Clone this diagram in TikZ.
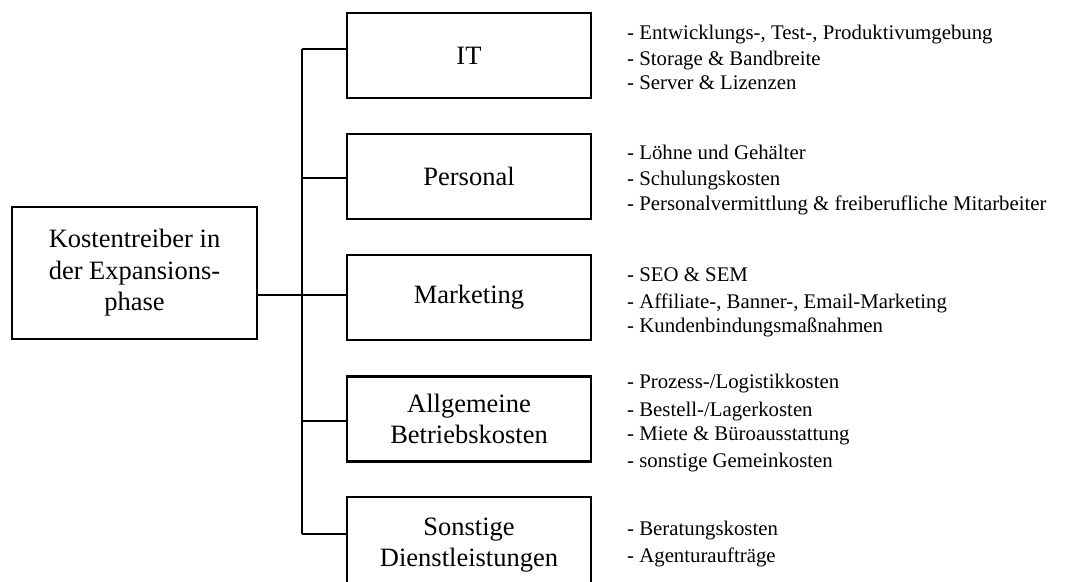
\documentclass[tikz,border=0pt]{standalone}
\usepackage{fontspec}
\setmainfont{Liberation Serif}
\begin{document}
\begin{tikzpicture}[x=1pt,y=-1pt,
  box/.style={draw, line width=2.6pt, minimum width=244pt, minimum height=85pt, align=center,
    font=\fontsize{26.5}{31.5}\selectfont, inner sep=0pt},
  item/.style={anchor=base west, inner sep=0pt, font=\fontsize{20.8}{25}\selectfont},
  conn/.style={line width=2.3pt},
  bus/.style={line width=2pt}]
\useasboundingbox (0,0) rectangle (1065,581);

% root
\node[box, minimum width=245pt, minimum height=132pt] (root) at (134.5,273)
  {Kostentreiber in\\der Expansions-\\phase};

% category boxes
\node[box] (it) at (469,55.5) {IT};
\node[box] (pe) at (469,176.5) {Personal};
\node[box] (mk) at (469,297.5) {Marketing};
\node[box] (ab) at (469,419) {Allgemeine\\Betriebskosten};
\node[box, minimum height=96pt] (sd) at (469,545) {Sonstige\\Dienstleistungen};

% bus
\coordinate (bt) at (302,49);
\coordinate (bb) at (302,534);
\draw[bus] (bt) -- (bb);
\draw[conn] (root.east |- 0,295) -- (mk.west |- 0,295);
\draw[conn] (bt) -- (it.west |- bt);
\draw[conn] (302,178) -- (pe.west |- 0,178);
\draw[conn] (302,421) -- (ab.west |- 0,421);
\draw[conn] (bb) -- (sd.west |- bb);

% item lists
\node[item] (i1) at (627,39) {- Entwicklungs-, Test-, Produktivumgebung};
\node[item] (i2) at (627,65) {- Storage \& Bandbreite};
\node[item] (i3) at (627,89) {- Server \& Lizenzen};

\node[item] (p1) at (627,159) {- Löhne und Gehälter};
\node[item] (p2) at (627,185) {- Schulungskosten};
\node[item] (p3) at (627,210) {- Personalvermittlung \& freiberufliche Mitarbeiter};

\node[item] (m1) at (627,281) {- SEO \& SEM};
\node[item] (m2) at (627,308) {- Affiliate-, Banner-, Email-Marketing};
\node[item] (m3) at (627,332) {- Kundenbindungsmaßnahmen};

\node[item] (a1) at (627,388) {- Prozess-/Logistikkosten};
\node[item] (a2) at (627,416) {- Bestell-/Lagerkosten};
\node[item] (a3) at (627,440) {- Miete \& Büroausstattung};
\node[item] (a4) at (627,467) {- sonstige Gemeinkosten};

\node[item] (s1) at (627,535) {- Beratungskosten};
\node[item] (s2) at (627,562) {- Agenturaufträge};
\end{tikzpicture}
\end{document}
